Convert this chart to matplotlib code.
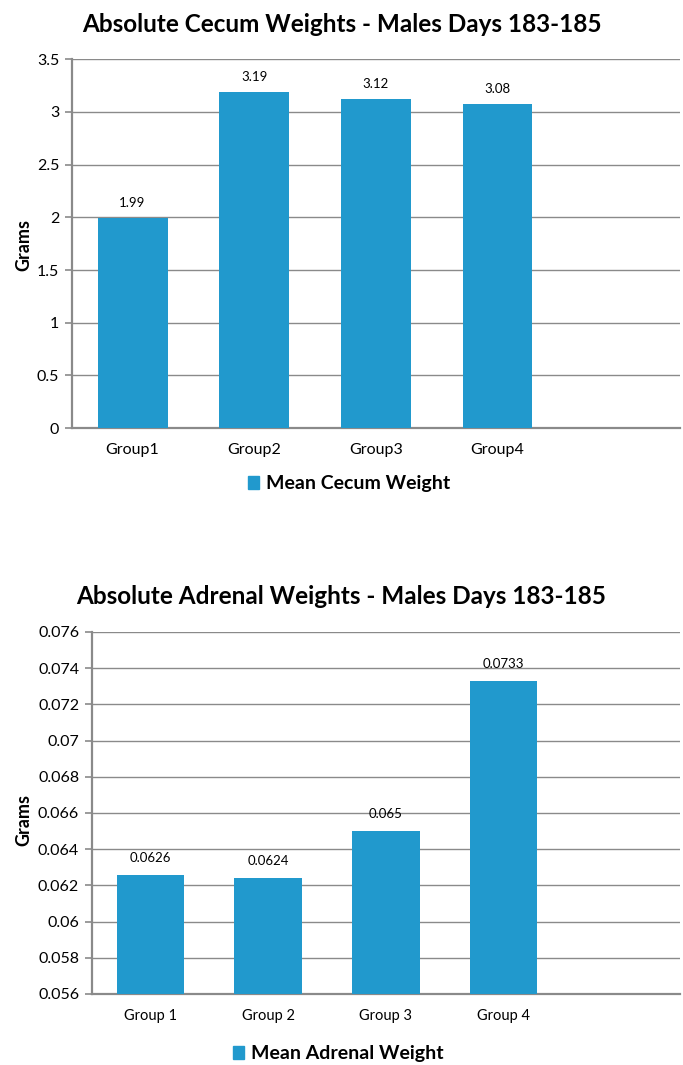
import numpy as np
import matplotlib
matplotlib.use('Agg')
import matplotlib.pyplot as plt
from matplotlib.patches import Patch

plt.rcParams['font.family'] = ['Lato', 'DejaVu Sans']

# cecum weights, days 183-185
cecum_groups = ['Group1', 'Group2', 'Group3', 'Group4', '']
cecum_means = [1.99, 3.19, 3.12, 3.08, np.nan]
cecum_labels = ['1.99', '3.19', '3.12', '3.08']
cecum_ticks = [0, 0.5, 1, 1.5, 2, 2.5, 3, 3.5]
cecum_ticklabels = ['0', '0.5', '1', '1.5', '2', '2.5', '3', '3.5']

# adrenal weights, days 183-185
adrenal_groups = ['Group 1', 'Group 2', 'Group 3', 'Group 4', '']
adrenal_means = [0.0626, 0.0624, 0.065, 0.0733, np.nan]
adrenal_labels = ['0.0626', '0.0624', '0.065', '0.0733']
adrenal_ticks = [0.056, 0.058, 0.06, 0.062, 0.064, 0.066, 0.068, 0.07, 0.072, 0.074, 0.076]
adrenal_ticklabels = ['0.056', '0.058', '0.06', '0.062', '0.064', '0.066', '0.068', '0.07', '0.072', '0.074', '0.076']

bar_color = '#2199cd'
grid_color = '#8a8a8a'

fig = plt.figure(figsize=(6.83, 10.65), dpi=100)


def bar_panel(rect, groups, means, labels, ticks, ticklabels, title, title_y,
              legend_text, legend_xy, xtick_size, label_off, ylabel_y):
    ax = fig.add_axes(rect)
    x = np.arange(len(groups))
    bars = ax.bar(x, means, width=0.575, color=bar_color, zorder=3)
    ax.set_xlim(-0.5, len(groups) - 0.5)
    ax.set_ylim(ticks[0], ticks[-1])
    ax.set_yticks(ticks)
    ax.set_yticklabels(ticklabels, fontsize=11.5)
    ax.set_xticks(x)
    ax.set_xticklabels(groups, fontsize=xtick_size)
    ax.tick_params(axis='x', length=0, pad=11)
    ax.tick_params(axis='y', length=5, width=1.2, color=grid_color, pad=4)
    ax.grid(axis='y', color=grid_color, linewidth=1.0, zorder=0)
    for s in ['top', 'right']:
        ax.spines[s].set_visible(False)
    for s in ['left', 'bottom']:
        ax.spines[s].set_color(grid_color)
        ax.spines[s].set_linewidth(1.6)
    for b, lab in zip(bars, labels):
        ax.annotate(lab, (b.get_x() + b.get_width() / 2, b.get_height()),
                    xytext=(0, label_off), textcoords='offset pixels',
                    ha='center', va='center', fontsize=9.5)
    fig.text(0.035, ylabel_y, 'Grams', rotation=90, ha='center', va='center',
             fontsize=13, fontweight='bold')
    fig.text(0.5, title_y, title, ha='center', va='center', fontsize=17.5,
             fontweight='bold')
    fig.legend(handles=[Patch(color=bar_color)], labels=[legend_text],
               loc='center', bbox_to_anchor=legend_xy, frameon=False,
               handlelength=0.6, handleheight=0.6, handletextpad=0.35,
               prop={'size': 14, 'weight': 'bold'})
    return ax


bar_panel([0.105, 0.5981, 0.8906, 0.3462], cecum_groups, cecum_means, cecum_labels,
          cecum_ticks, cecum_ticklabels, 'Absolute Cecum Weights - Males Days 183-185',
          1 - 25 / 1065, 'Mean Cecum Weight', (0.511, 1 - 484 / 1065), 11.5, 15,
          1 - 245 / 1065)

bar_panel([0.1343, 0.0667, 0.8613, 0.3399], adrenal_groups, adrenal_means, adrenal_labels,
          adrenal_ticks, adrenal_ticklabels, 'Absolute Adrenal Weights - Males Days 183-185',
          1 - 597 / 1065, 'Mean Adrenal Weight', (0.495, 1 - 1054 / 1065), 10.5, 17,
          1 - 820 / 1065)

fig.savefig('out.png', dpi=100)
